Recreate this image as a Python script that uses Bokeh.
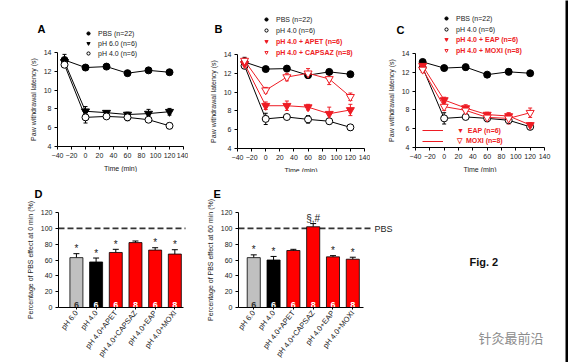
from bokeh.plotting import figure
from bokeh.models import (ColumnDataSource, Whisker, TeeHead, Legend, LegendItem,
                          Label, FixedTicker, Range1d)
from bokeh.layouts import row, column
from bokeh.embed import file_html
from bokeh.resources import INLINE
from bokeh.core.properties import value

FONT = "Liberation Sans"
RED = "#ee1c24"
BARRED = "#ff0000"

# ---------------- data ----------------
time = [-30, 0, 30, 60, 90, 120]
x_ticks = [-40, -20, 0, 20, 40, 60, 80, 100, 120, 140]
y_ticks = [4, 6, 8, 10, 12, 14]

# Panel A
a_pbs = [13.2, 12.4, 12.5, 11.8, 12.1, 11.9]
a_pbs_err = [0.6, 0.2, 0.2, 0.2, 0.25, 0.2]
a_ph6 = [13.0, 7.75, 7.6, 7.4, 7.5, 7.7]
a_ph6_err = [0.3, 0.5, 0.2, 0.25, 0.45, 0.35]
a_ph4 = [12.7, 7.1, 7.2, 7.1, 6.85, 6.2]
a_ph4_err = [0.3, 0.6, 0.2, 0.35, 0.2, 0.3]

# Panel B
b_pbs = [13.2, 12.45, 12.5, 11.8, 12.15, 11.9]
b_pbs_err = [0.5, 0.2, 0.25, 0.2, 0.25, 0.2]
b_ph4 = [12.8, 7.15, 7.35, 7.1, 6.9, 6.25]
b_ph4_err = [0.3, 0.6, 0.2, 0.4, 0.3, 0.3]
b_apet = [13.0, 8.55, 8.55, 8.4, 7.7, 8.1]
b_apet_err = [0.3, 0.4, 0.5, 0.3, 0.7, 0.6]
b_capsaz = [13.35, 10.2, 11.6, 12.0, 11.4, 9.5]
b_capsaz_err = [0.25, 0.3, 0.4, 0.5, 0.6, 0.4]

# Panel C
c_pbs = [13.1, 12.45, 12.55, 11.75, 12.05, 11.9]
c_pbs_err = [0.25, 0.25, 0.3, 0.2, 0.3, 0.2]
c_ph4 = [12.5, 7.1, 7.25, 7.1, 6.9, 6.2]
c_ph4_err = [0.3, 0.6, 0.2, 0.35, 0.25, 0.3]
c_eap = [12.7, 9.05, 8.2, 7.5, 7.35, 6.4]
c_eap_err = [0.3, 0.3, 0.35, 0.25, 0.3, 0.25]
c_moxi = [12.3, 8.35, 7.95, 7.2, 7.1, 7.7]
c_moxi_err = [0.3, 0.4, 0.3, 0.25, 0.6, 0.5]

# Panels D and E
groups = ["pH 6.0", "pH 4.0", "pH 4.0+APET", "pH 4.0+CAPSAZ", "pH 4.0+EAP", "pH 4.0+MOXI"]
counts = ["6", "6", "6", "8", "6", "8"]
d_vals = [63, 57.5, 69.5, 82, 72.5, 67.5]
d_errs = [5, 5, 4, 2, 3, 5.5]
d_marks = ["*", "*", "*", "", "*", "*"]
e_vals = [63, 60, 72, 102, 64, 61]
e_errs = [3.5, 4.5, 1.5, 4, 1.5, 2.5]
e_marks = ["*", "*", "", "§,#", "*", "*"]
bar_ticks = [0, 20, 40, 60, 80, 100, 120]
pbs_level = 100
bar_colors = ["#c0c0c0", "#000000", BARRED, BARRED, BARRED, BARRED]
num_colors = ["#333333", "white", "white", "white", "white", "white"]

# ---------------- geometry (page pixel coords) ----------------
# ox, oy: figure origin; w, h: figure size; fl, ft, fr, fb: axis box edges
GA = dict(ox=0, oy=0, w=188, h=172, fl=57, ft=52, fr=183, fb=146)
GB = dict(ox=188, oy=0, w=182, h=172, fl=237, ft=54, fr=364, fb=148)
GC = dict(ox=370, oy=0, w=195, h=172, fl=415, ft=53, fr=544, fb=147)
GD = dict(ox=0, oy=172, w=198, h=190, fl=58, ft=212, fr=183, fb=307)
GE = dict(ox=198, oy=172, w=202, h=190, fl=238, ft=212, fr=363, fb=307)
GF = dict(ox=400, oy=172, w=165, h=190)


def to_data(g, xr, yr, px, py):
    dx = xr[0] + (px - g["fl"]) / (g["fr"] - g["fl"]) * (xr[1] - xr[0])
    dy = yr[0] + (g["fb"] - py) / (g["fb"] - g["ft"]) * (yr[1] - yr[0])
    return dx, dy


def make_fig(g, xr, yr):
    # the plotting frame covers the whole figure; axes are pinned at the data box edges
    x0, y1 = to_data(g, xr, yr, g["ox"], g["oy"])
    x1, y0 = to_data(g, xr, yr, g["ox"] + g["w"], g["oy"] + g["h"])
    p = figure(width=g["w"], height=g["h"], x_range=Range1d(x0, x1), y_range=Range1d(y0, y1),
               toolbar_location=None, output_backend="svg", min_border=0)
    p.title.visible = False
    p.outline_line_color = None
    p.grid.visible = False
    p.background_fill_color = "white"
    p.border_fill_color = "white"
    p.xaxis.fixed_location = yr[0]
    p.xaxis.bounds = xr
    p.yaxis.fixed_location = xr[0]
    p.yaxis.bounds = yr
    for ax in p.axis:
        ax.axis_line_color = "black"
        ax.axis_line_width = 1
        ax.major_tick_out = 3
        ax.major_tick_in = 0
        ax.minor_tick_out = 0
        ax.minor_tick_in = 0
        ax.major_tick_line_color = "black"
        ax.major_label_text_font = FONT
        ax.major_label_text_font_size = "7px"
        ax.major_label_text_color = "#222222"
        ax.axis_label_text_font = FONT
        ax.axis_label_text_font_size = "7px"
        ax.axis_label_text_font_style = "normal"
        ax.axis_label_text_color = "#222222"
        ax.major_label_standoff = 3
        ax.axis_label_standoff = 4
    return p


def letter(p, g, xr, yr, txt, px, py):
    x, y = to_data(g, xr, yr, px, py)
    p.add_layout(Label(x=x, y=y, text=txt, text_font=FONT, text_font_size="11px",
                       text_font_style="bold", text_align="left", text_baseline="alphabetic",
                       text_color="black"))


def series(p, y, err, color, marker, filled, size):
    src = ColumnDataSource(dict(x=time, y=y,
                                up=[a + b for a, b in zip(y, err)],
                                lo=[a - b for a, b in zip(y, err)]))
    lr = p.line("x", "y", source=src, line_color=color, line_width=1)
    p.add_layout(Whisker(source=src, base="x", upper="up", lower="lo", line_color=color,
                         line_width=1,
                         upper_head=TeeHead(size=4, line_color=color, line_width=1),
                         lower_head=TeeHead(size=4, line_color=color, line_width=1)))
    sr = p.scatter("x", "y", source=src, marker=marker, size=size, line_color=color,
                   fill_color=color if filled else "white", line_width=1)
    return lr, sr


def legend(p, g, items, left_px, bottom_px, color, bold, gw=8, standoff=6, spacing=3):
    lg = Legend(items=items, location=(left_px - g["ox"], g["oy"] + g["h"] - bottom_px),
                orientation="vertical", background_fill_alpha=0, border_line_color=None,
                padding=0, margin=0, spacing=spacing, glyph_width=gw, glyph_height=8,
                label_height=8, label_standoff=standoff, label_text_font=FONT,
                label_text_font_size="7px", label_text_color=color,
                label_text_font_style="bold" if bold else "normal")
    p.add_layout(lg, "center")
    return lg


XR = (-40, 140)
YR = (4, 14)


def line_fig(g, show_letter, lpx, lpy):
    p = make_fig(g, XR, YR)
    p.xaxis.ticker = FixedTicker(ticks=x_ticks)
    p.yaxis.ticker = FixedTicker(ticks=y_ticks)
    p.xaxis.axis_label = "Time (min)"
    p.yaxis.axis_label = "Paw withdrawal latency (s)"
    letter(p, g, XR, YR, show_letter, lpx, lpy)
    return p


# ---------------- Panel A ----------------
pa = line_fig(GA, "A", 37, 28)
_, ra1 = series(pa, a_pbs, a_pbs_err, "black", "circle", True, 7)
_, ra2 = series(pa, a_ph6, a_ph6_err, "black", "inverted_triangle", True, 8)
_, ra3 = series(pa, a_ph4, a_ph4_err, "black", "circle", False, 7)
legend(pa, GA, [LegendItem(label="PBS (n=22)", renderers=[ra1]),
                LegendItem(label="pH 6.0 (n=6)", renderers=[ra2]),
                LegendItem(label="pH 4.0 (n=6)", renderers=[ra3])],
       84, 57, "#222222", False, spacing=2)

# ---------------- Panel B ----------------
pb = line_fig(GB, "B", 214, 28)
_, rb1 = series(pb, b_pbs, b_pbs_err, "black", "circle", True, 7)
_, rb2 = series(pb, b_ph4, b_ph4_err, "black", "circle", False, 7)
_, rb3 = series(pb, b_apet, b_apet_err, RED, "inverted_triangle", True, 8)
_, rb4 = series(pb, b_capsaz, b_capsaz_err, RED, "inverted_triangle", False, 8)
legend(pb, GB, [LegendItem(label="PBS (n=22)", renderers=[rb1]),
                LegendItem(label="pH 4.0 (n=6)", renderers=[rb2])],
       262, 34, "#222222", False)
legend(pb, GB, [LegendItem(label="pH 4.0 + APET (n=6)", renderers=[rb3]),
                LegendItem(label="pH 4.0 + CAPSAZ (n=8)", renderers=[rb4])],
       262, 56, RED, True)

# ---------------- Panel C ----------------
pc = line_fig(GC, "C", 396, 29)
_, rc1 = series(pc, c_pbs, c_pbs_err, "black", "circle", True, 7)
_, rc2 = series(pc, c_ph4, c_ph4_err, "black", "circle", False, 7)
lc3, rc3 = series(pc, c_eap, c_eap_err, RED, "inverted_triangle", True, 8)
lc4, rc4 = series(pc, c_moxi, c_moxi_err, RED, "inverted_triangle", False, 8)
legend(pc, GC, [LegendItem(label="PBS (n=22)", renderers=[rc1]),
                LegendItem(label="pH 4.0 (n=6)", renderers=[rc2])],
       442, 33, "#222222", False)
legend(pc, GC, [LegendItem(label="pH 4.0 + EAP (n=6)", renderers=[rc3]),
                LegendItem(label="pH 4.0 + MOXI (n=8)", renderers=[rc4])],
       442, 54, RED, True)
legend(pc, GC, [LegendItem(label="\u25bc  EAP (n=6)", renderers=[lc3]),
                LegendItem(label="\u25bd  MOXI (n=8)", renderers=[lc4])],
       422, 145, RED, True, gw=21, standoff=14)


# ---------------- Bar panels ----------------
def bar_fig(g, xr, vals, errs, marks, ylabel, let, lpx, lpy, dash_end_px):
    yr = (0, 120)
    p = make_fig(g, xr, yr)
    xs = list(range(len(groups)))
    src = ColumnDataSource(dict(x=xs, top=vals, zero=[0] * len(xs),
                                up=[v + e for v, e in zip(vals, errs)],
                                col=bar_colors, n=counts, ncol=num_colors, mark=marks))
    dash_end, _ = to_data(g, xr, yr, dash_end_px, 0)
    p.line(x=[xr[0], dash_end], y=[pbs_level, pbs_level], line_color="#333333",
           line_width=1.6, line_dash="6 3")
    p.add_layout(Whisker(source=src, base="x", upper="up", lower="top", line_color="black",
                         line_width=1, upper_head=TeeHead(size=6, line_color="black", line_width=1),
                         lower_head=None))
    p.vbar(x="x", top="top", bottom=0, width=0.66, source=src, fill_color="col",
           line_color="black", line_width=0.8)
    p.text(x="x", y="zero", text="n", source=src, text_color="ncol", text_align="center",
           text_baseline="alphabetic", y_offset=-3, text_font=value(FONT),
           text_font_size="9px", text_font_style="bold")
    p.text(x="x", y="up", text="mark", source=src, text_color="#222222", text_align="center",
           text_baseline="middle", y_offset=-5, text_font=value(FONT), text_font_size="10px")
    p.xaxis.ticker = FixedTicker(ticks=xs)
    p.xaxis.major_label_overrides = {i: lab for i, lab in enumerate(groups)}
    p.xaxis.major_label_orientation = 0.9
    p.xaxis.major_label_text_font_size = "7.5px"
    p.xaxis.major_label_standoff = 2
    p.xaxis.major_tick_out = 2
    p.yaxis.ticker = FixedTicker(ticks=bar_ticks)
    p.yaxis.axis_label = ylabel
    letter(p, g, xr, yr, let, lpx, lpy)
    return p, yr


XD = (-0.91, 5.44)
pd_, yrd = bar_fig(GD, XD, d_vals, d_errs, d_marks,
                   "Percentage of PBS effect at 0 min (%)", "D", 34, 193, 185)
XE = (-0.77, 5.54)
pe, yre = bar_fig(GE, XE, e_vals, e_errs, e_marks,
                  "Percentage of PBS effect at 60 min (%)", "E", 213, 193, 370)
px_, py_ = to_data(GE, XE, yre, 374, 228)
pe.add_layout(Label(x=px_, y=py_, text="PBS", text_font=FONT, text_font_size="9px",
                    text_baseline="middle", text_align="left", text_color="#222222"))

# ---------------- Right-bottom caption area ----------------
pf = figure(width=GF["w"], height=GF["h"], x_range=Range1d(GF["ox"], GF["ox"] + GF["w"]),
            y_range=Range1d(GF["oy"] + GF["h"], GF["oy"]),
            toolbar_location=None, output_backend="svg", x_axis_type=None, y_axis_type=None,
            min_border=0)
pf.title.visible = False
pf.outline_line_color = None
pf.grid.visible = False
pf.add_layout(Label(x=469, y=261, text="Fig. 2", text_font=FONT, text_font_size="11px",
                    text_font_style="bold", text_baseline="middle", text_align="left",
                    text_color="#111111"))
pf.add_layout(Label(x=478, y=337, text="针灸最前沿", text_font="Noto Sans CJK SC",
                    text_font_size="13px", text_baseline="middle", text_align="left",
                    text_color="#8c8c8c"))

# dark strip at the right edge of the picture
edge = figure(width=3, height=362, toolbar_location=None, output_backend="svg",
              x_axis_type=None, y_axis_type=None, min_border=0)
edge.title.visible = False
edge.outline_line_color = None
edge.grid.visible = False
edge.background_fill_color = "black"
edge.border_fill_color = "black"

layout = row(column(row(pa, pb, pc), row(pd_, pe, pf)), edge)

with open("out.html", "w") as f:
    f.write(file_html(layout, INLINE))
